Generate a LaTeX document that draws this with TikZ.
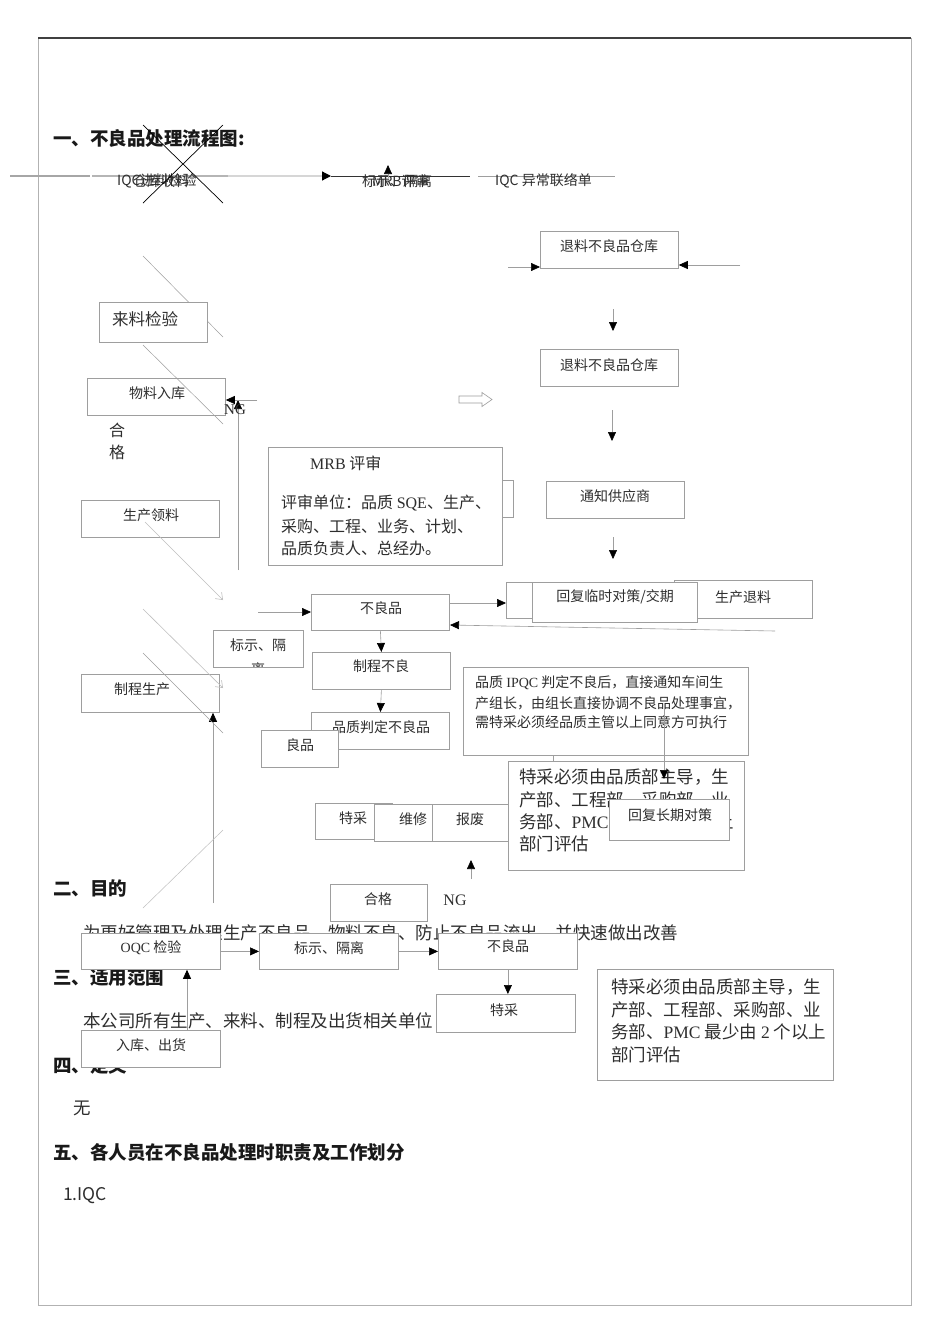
\documentclass[tikz,border=0pt]{standalone}
\usepackage{fontspec}
\setmainfont{Noto Sans CJK SC}
\newfontfamily\lat{Liberation Serif}
\usetikzlibrary{arrows.meta}
\newcommand\fsz[1]{\fontsize{#1pt}{#1pt}\selectfont}
\newcommand\bb[5]{\node[box, minimum width=#4pt, minimum height=#5pt] (#1) at (#2,#3) {};}
\definecolor{bx}{gray}{0.62}
\definecolor{ln}{gray}{0.62}
\definecolor{lnl}{gray}{0.84}
\definecolor{tx}{gray}{0.18}
\begin{document}
\begin{tikzpicture}[x=1pt,y=-1pt,
  box/.style={draw=bx, fill=white, line width=0.8pt, inner sep=0pt, anchor=north west},
  lbl/.style={inner sep=0pt, font=\fsz{14}, text=tx},
  lblw/.style={lbl, anchor=west},
  head/.style={inner sep=0pt, anchor=west, font=\fsz{18.5}\bfseries, text=black!90},
  body/.style={inner sep=0pt, anchor=west, font=\fsz{17.5}, text=tx},
  conn/.style={draw=ln, line width=0.6pt},
  arr/.style={conn, -{Triangle[length=9pt,width=8pt,color=black]}},
  barb/.style={conn, -{Straight Barb[length=6pt,width=9pt]}},
]
\fill[white] (0,0) rectangle (950,1344);
\useasboundingbox (0,0) rectangle (950,1344);
% page frame
\draw[gray!60, line width=0.8pt] (38,38) rectangle (911,1305);
\draw[black!75, line width=1.3pt] (38,38) -- (911,38);

% headings and body text
\node[head] (h1) at (53,138) {一、不良品处理流程图:};
\node[head] (h2) at (53,888) {二、目的};
\node[body] (t2) at (83,933) {为更好管理及处理生产不良品、物料不良、防止不良品流出，并快速做出改善};
\node[head] (h3) at (53,977) {三、适用范围};
\node[body] (t3) at (83,1021) {本公司所有生产、来料、制程及出货相关单位};
\node[head] (h4) at (53,1065) {四、定义};
\node[body] (t4) at (73,1108) {无};
\node[head] (h5) at (53,1152) {五、各人员在不良品处理时职责及工作划分};
\node[body] (t5) at (63,1196) {1.IQC};

% top row
\coordinate (r00) at (10,176); \coordinate (r01) at (90,176);
\coordinate (r02) at (92,176); \coordinate (r0) at (228,176);
\coordinate (r1) at (331,176); \coordinate (r2) at (470,176);
\coordinate (r3) at (478,176); \coordinate (r4) at (615,176);
\draw[gray!70, line width=1.3pt] (r00) -- (r01);
\draw[gray!58, line width=1.3pt] (r02) -- (r0);
\draw[lnl, line width=1.2pt, -{Triangle[length=9pt,width=9pt,color=black]}] (r0) -- (r1);
\draw[black!80, line width=0.6pt] (r1) -- (r2);
\draw[ln] (r3) -- (r4);
\node[lblw] (iqc) at (117,181) {IQC进料检验};
\node[lblw] (ck) at (133,181) {仓库收料};
\coordinate (x1) at (143,125); \coordinate (x2) at (223,203);
\coordinate (x3) at (223,125); \coordinate (x4) at (143,203);
\draw[black, line width=0.7pt] (x1) -- (x2) (x3) -- (x4);
\node[lblw] (bs0) at (362,181) {标示、隔离};
\node[lblw] (mrb0) at (372,181) {MRB评审};
\coordinate (ua) at (388,178); \coordinate (ub) at (388,165);
\draw[arr] (ua) -- (ub);
\node[lblw] (iqcy) at (495,181) {IQC 异常联络单};

% diagonal hidden behind box
\coordinate (d1a) at (143,256); \coordinate (d1b) at (223,337);
\draw[ln, line width=0.5pt] (d1a) -- (d1b);

% left column boxes
\bb{lljy}{99}{302}{108}{40}
\node[lblw, font=\fsz{16.5}] (lljyt) at (112,319) {来料检验};
\bb{wlrk}{87}{378}{138}{37}
\node[lbl] (wlrkt) at (157,393) {物料入库};
\node[lbl, font=\fsz{16}] (he) at (117,430) {合};
\node[lbl, font=\fsz{16}] (ge) at (117,452) {格};
\bb{scll}{81}{500}{138}{37}
\node[lbl] (scllt) at (151,515) {生产领料};

% NG feedback
\coordinate (v1) at (238,570); \coordinate (v2) at (238,400);
\draw[arr] (v1) -- (v2);
\coordinate (ng1) at (257,400);
\draw[arr] (ng1) -- (ng1 -| wlrk.east);
\node[lbl, font=\lat\fsz{15}] (ng) at (235,410) {NG};

% MRB
\bb{mrbs}{502}{480}{11}{37}
\bb{mrb}{268}{447}{234}{118}
\node[lblw, font=\fsz{16}] (mrbt) at (310,463) {{\lat MRB} 评审};
\node[lblw, font=\fsz{16}] (mrb1) at (281,503) {评审单位：品质 {\lat SQE}、生产、};
\node[lblw, font=\fsz{16}] (mrb2) at (281,526) {采购、工程、业务、计划、};
\node[lblw, font=\fsz{16}] (mrb3) at (281,548) {品质负责人、总经办。};

% hollow arrow
\draw[ln, line width=0.6pt] (459,396) -- (482,396) -- (482,392.5) -- (492,399.5) -- (482,406.5) -- (482,403) -- (459,403) -- cycle;

% right column
\bb{tl1}{540}{231}{138}{37}
\node[lbl] (tl1t) at (609,246) {退料不良品仓库};
\coordinate (a1) at (508,267); \coordinate (a2) at (740,265);
\draw[arr] (a1) -- (a1 -| tl1.west);
\draw[arr] (a2) -- (a2 -| tl1.east);
\coordinate (dA) at (613,309); \coordinate (dB) at (613,331);
\draw[arr] (dA) -- (dB);
\bb{tl2}{540}{349}{138}{37}
\node[lbl] (tl2t) at (609,365) {退料不良品仓库};
\coordinate (dC) at (612,410); \coordinate (dD) at (612,441);
\draw[arr] (dC) -- (dD);
\bb{tz}{546}{481}{138}{37}
\node[lbl] (tzt) at (615,496) {通知供应商};
\coordinate (dE) at (613,537); \coordinate (dF) at (613,559);
\draw[arr] (dE) -- (dF);
\bb{ba}{506}{582}{191}{36}
\bb{sctl}{674}{580}{138}{38}
\bb{hf}{532}{582}{165}{40}
\node[lbl] (hft) at (615,597) {回复临时对策/交期};
\node[lbl] (sctlt) at (743,597) {生产退料};

% middle column
\bb{blp}{311}{594}{138}{36}
\node[lbl] (blpt) at (381,608) {不良品};
\coordinate (b0) at (258,612);
\draw[arr] (b0) -- (b0 -| blp.west);
\coordinate (b1) at (449,603);
\draw[arr] (b1) -- (b1 -| ba.west);
\coordinate (b2) at (775,631); \coordinate (b3) at (450,625);
\draw[arr] (b2) -- (b3);

\bb{bsg}{213}{630}{90}{37}
\node[lbl] (bsgt) at (258,645) {标示、隔};
\begin{scope}
\clip (213,630) rectangle (303,666.5);
\node[lbl] (bsgt2) at (258,669) {离};
\end{scope}

\bb{zcbl}{312}{652}{138}{37}
\node[lbl] (zcblt) at (381,666) {制程不良};
\draw[arr] (blp.south) -- (zcbl.north);
\bb{pzpd}{311}{712}{138}{37}
\node[lbl] (pzpdt) at (381,727) {品质判定不良品};
\draw[arr] (zcbl.south) -- (pzpd.north);
\bb{lp}{261}{730}{77}{37}
\node[lbl] (lpt) at (300,745) {良品};

\bb{zcsc}{81}{674}{138}{38}
\node[lbl] (zcsct) at (142,689) {制程生产};
\coordinate (u1) at (213,903);
\draw[arr] (u1) -- (u1 |- zcsc.south);

% diagonals drawn on top
\coordinate (d2a) at (143,345); \coordinate (d2b) at (223,424);
\draw[ln, line width=0.5pt] (d2a) -- (d2b);
\coordinate (d3a) at (145,522); \coordinate (d3b) at (223,600);
\draw[barb, draw=gray!50] (d3a) -- (d3b);
\coordinate (d4a) at (143,609); \coordinate (d4b) at (223,688);
\draw[barb, draw=gray!50] (d4a) -- (d4b);
\coordinate (d5a) at (143,653); \coordinate (d5b) at (223,733);
\draw[ln, line width=0.5pt] (d5a) -- (d5b);
\coordinate (d6a) at (223,830); \coordinate (d6b) at (143,908);
\draw[ln, draw=gray!50, line width=0.5pt] (d6a) -- (d6b);

% 特采 / 维修 / 报废
\bb{tc}{315}{803}{77}{36}
\bb{wx}{374}{804}{58}{37}
\bb{bf}{432}{804}{76}{37}
\node[lbl] (tct) at (353,818) {特采};
\node[lbl] (wxt) at (413,819) {维修};
\node[lbl] (bft) at (470,819) {报废};
\coordinate (ng2) at (471,879);
\draw[arr] (ng2) -- (471,860);
\bb{hg}{330}{884}{97}{37}
\node[lbl] (hgt) at (378,899) {合格};
\node[lbl, font=\lat\fsz{16}] (ngb) at (455,900) {NG};

% IPQC note
\bb{ipqc}{463}{667}{285}{88}
\node[lblw] (ip1) at (475,683) {品质 {\lat IPQC} 判定不良后，直接通知车间生};
\node[lblw] (ip2) at (475,703) {产组长，由组长直接协调不良品处理事宜，};
\node[lblw] (ip3) at (475,722) {需特采必须经品质主管以上同意方可执行};
\coordinate (s1) at (553,755); \coordinate (s2) at (553,761);
\draw[ln] (s1) -- (s2);

\bb{tcb1}{508}{761}{236}{109}
\node[lblw, font=\fsz{17.5}] (tb11) at (519,777) {特采必须由品质部主导，生};
\node[lblw, font=\fsz{17.5}] (tb12) at (519,800) {产部、工程部、采购部、业};
\node[lblw, font=\fsz{17.5}] (tb13) at (519,822) {务部、{\lat PMC} 最少由 {\lat 2} 个以上};
\node[lblw, font=\fsz{17.5}] (tb14) at (519,844) {部门评估};
\coordinate (w1) at (664,703); \coordinate (w2) at (664,779);
\draw[arr] (w1) -- (w2);
\bb{hfcq}{609}{799}{120}{41}
\node[lbl] (hfcqt) at (670,815) {回复长期对策};

% OQC row
\bb{oqc}{81}{933}{139}{36}
\node[lbl] (oqct) at (151,948) {{\lat OQC} 检验};
\bb{bsgl}{259}{933}{139}{36}
\node[lbl] (bsglt) at (329,948) {标示、隔离};
\bb{blp2}{438}{933}{139}{36}
\node[lbl] (blp2t) at (508,946) {不良品};
\draw[arr] (oqc.east) -- (bsgl.west);
\draw[arr] (bsgl.east) -- (blp2.west);
\bb{tc2}{436}{994}{139}{38}
\node[lbl] (tc2t) at (504,1010) {特采};
\draw[arr] (blp2.south) -- (blp2.south |- tc2.north);
\bb{rkch}{81}{1030}{139}{37}
\node[lbl] (rkcht) at (151,1045) {入库、出货};
\coordinate (q1) at (187,1030);
\draw[arr] (q1) -- (q1 |- oqc.south);

\bb{tcb2}{597}{969}{236}{111}
\node[lblw, font=\fsz{17.5}] (tb21) at (611,987) {特采必须由品质部主导，生};
\node[lblw, font=\fsz{17.5}] (tb22) at (611,1010) {产部、工程部、采购部、业};
\node[lblw, font=\fsz{17.5}] (tb23) at (611,1032) {务部、{\lat PMC} 最少由 {\lat 2} 个以上};
\node[lblw, font=\fsz{17.5}] (tb24) at (611,1055) {部门评估};
\end{tikzpicture}
\end{document}
